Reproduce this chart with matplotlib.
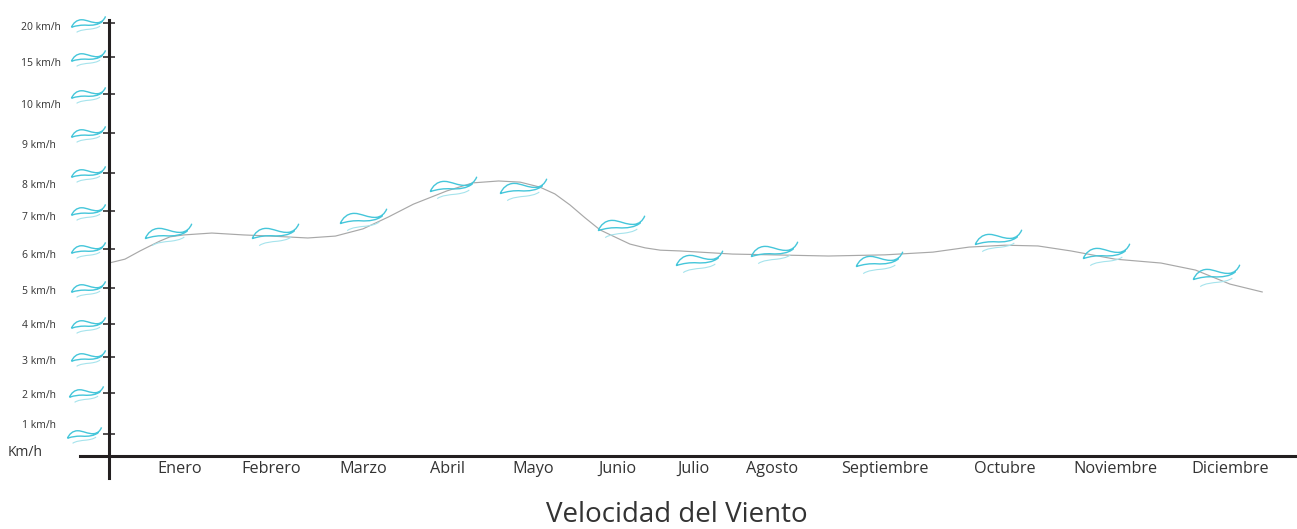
import numpy as np
import matplotlib
matplotlib.use("Agg")
import matplotlib.pyplot as plt
from matplotlib.path import Path

plt.rcParams['font.family'] = ['Open Sans', 'DejaVu Sans']

# ---- data ----
months = ['Enero', 'Febrero', 'Marzo', 'Abril', 'Mayo', 'Junio', 'Julio', 'Agosto',
          'Septiembre', 'Octubre', 'Noviembre', 'Diciembre']
speed_ticks = [1, 2, 3, 4, 5, 6, 7, 8, 9, 10, 15, 20]
speed_labels = [f'{v} km/h' for v in speed_ticks]

# curve: month position, km/h
curve_month = [0, .225, .437, .577, .718, .859, 1.04, 1.35, 1.7, 2, 2.4, 2.7, 3, 3.3, 3.6, 4,
               4.3, 4.6, 4.85, 5.08, 5.26, 5.44, 5.62, 5.8, 6, 6.17, 6.37, 6.57, 6.83, 7.5,
               8, 8.5, 9, 9.4, 9.7, 10, 10.3, 10.6, 11, 11.4, 11.7, 12, 12.28]
curve_speed = [5.64, 5.74, 5.95, 6.08, 6.21, 6.32, 6.37, 6.42, 6.37, 6.34, 6.29, 6.34, 6.53,
               6.84, 7.18, 7.53, 7.74, 7.79, 7.76, 7.63, 7.45, 7.16, 6.82, 6.5, 6.29, 6.13,
               6.03, 5.97, 5.95, 5.87, 5.85, 5.82, 5.85, 5.92, 6.05, 6.1, 6.08, 5.95, 5.74,
               5.64, 5.46, 5.1, 4.89]

# wind glyphs on the curve
icon_month = [.83, 2.04, 3, 4.07, 4.88, 6.05, 7.08, 8.02, 8.95, 9.94, 10.92, 11.88]
icon_speed = [6.42, 6.42, 6.82, 7.66, 7.61, 6.63, 5.72, 5.95, 5.69, 6.26, 5.9, 5.36]

# ---- layout: uneven axis spacing of the original ----
x_knots = [-3, -1, 0, 1, 2, 3, 4, 5, 6, 7, 8, 9, 10, 11, 12, 13, 14]
x_px = [-104, 38, 109, 180, 271, 363, 447, 533, 617, 693, 772, 885, 1005, 1115, 1230, 1345, 1460]
y_knots = [-1, 0, 1, 2, 3, 4, 5, 6, 7, 8, 9, 10, 15, 20, 30]
y_px = [529, 456, 434, 393, 357, 324, 288, 249, 211, 173, 133, 94, 57, 23, -15]

y_neg = [-p for p in y_px]
fx = lambda v: np.interp(v, x_knots, x_px)
ifx = lambda p: np.interp(p, x_px, x_knots)
fy = lambda v: np.interp(v, y_knots, y_neg)
ify = lambda p: np.interp(p, y_neg, y_knots)

fig = plt.figure(figsize=(12.97, 5.29), dpi=100)
ax = fig.add_axes([0, 0, 1, 1])
ax.patch.set_alpha(0)
ax.set_xscale('function', functions=(fx, ifx))
ax.set_yscale('function', functions=(fy, ify))
ax.set_xlim(float(ifx(0)), float(ifx(1297)))
ax.set_ylim(float(ify(-529)), float(ify(0)))

dark = '#231f20'
for s in ['top', 'right']:
    ax.spines[s].set_visible(False)
ax.spines['left'].set_position(('data', 0))
ax.spines['bottom'].set_position(('data', 0))
ax.spines['left'].set_bounds(float(ify(-478)), float(ify(-20)))
ax.spines['bottom'].set_bounds(float(ifx(80)), float(ifx(1297)))
ax.spines['left'].set_linewidth(2.2)
ax.spines['bottom'].set_linewidth(2.2)
ax.spines['left'].set_color(dark)
ax.spines['bottom'].set_color(dark)

ax.set_yticks(speed_ticks)
ax.set_yticklabels([])
ax.yaxis.set_ticks_position('left')
ax.tick_params(axis='y', direction='inout', length=8, width=1.1, color=dark)
ax.minorticks_off()
ax.set_xticks(range(1, 13))
ax.set_xticklabels(months, fontsize=11.7, color='#333333')
ax.tick_params(axis='x', length=0, pad=3.5)

ax.plot(curve_month, curve_speed, color='#a8a8a8', lw=0.85, zorder=2, solid_joinstyle='round')

# wind glyph
M, C = Path.MOVETO, Path.CURVE4
main_v = [(-1, -.22), (-.9, .02), (-.7, .22), (-.4, .22), (-.1, .22), (.2, .02), (.55, .05),
          (.75, .07), (.92, .2), (1, .42),
          (-1, -.22), (-.7, -.12), (-.4, -.08), (-.1, -.1), (.2, -.12), (.6, -.08), (.82, .12)]
main_c = [M] + [C] * 9 + [M] + [C] * 6
low_v = [(-.7, -.52), (-.5, -.38), (-.2, -.36), (.1, -.33), (.3, -.3), (.5, -.28), (.68, -.15), (1, 0)]
low_c = [M] + [C] * 6 + [M]
wind_main = Path(main_v, main_c)
wind_low = Path(low_v, low_c)

axis_x = float(ifx(88))
near_axis = [axis_x] * len(speed_ticks)
near_axis[0] = float(ifx(84))
near_axis[1] = float(ifx(86))
for xs, ys, ms in [(near_axis, speed_ticks, 24.5), (icon_month, icon_speed, 33.5)]:
    ax.plot(xs, ys, ls='none', marker=wind_main, ms=ms, mfc='none', mec='#45c6da', mew=1.0, zorder=3)
    ax.plot(xs, ys, ls='none', marker=wind_low, ms=ms, mfc='none', mec='#a5e3ec', mew=0.8, zorder=3)

# speed labels sit slightly off their ticks in the original
label_dx = [-53, -53, -53, -53, -53, -53, -53, -53, -53, -48, -48, -48]
label_dy = [8, -2, -4, -2, -3, -7, -7, -13, -13, -11, -7, -5]
for v, t, dx, dy in zip(speed_ticks, speed_labels, label_dx, label_dy):
    ax.annotate(t, xy=(0, v), xytext=(dx, dy), textcoords='offset pixels', ha='right', va='center',
                fontsize=7.5, color='#333333')

ax.annotate('Km/h', xy=(0, 0), xytext=(-66, 3), textcoords='offset pixels', ha='right', va='center',
            fontsize=10, color='#333333')
fig.text(677 / 1297, 1 - 515 / 529, 'Velocidad del Viento', ha='center', va='center', fontsize=20, color='#333333')

fig.savefig('out.png', dpi=100)
